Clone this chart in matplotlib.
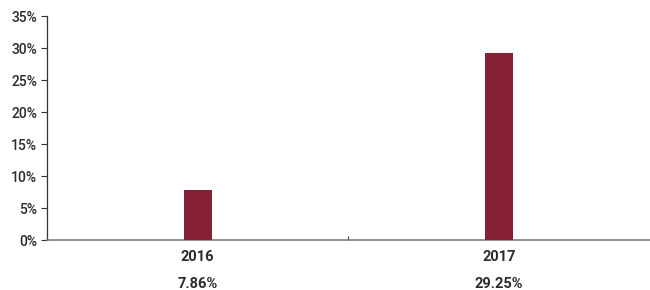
import matplotlib
matplotlib.use("Agg")
import matplotlib.pyplot as plt
from matplotlib.ticker import FuncFormatter

# 数据
years = ["2016", "2017"]
values = [7.86, 29.25]
value_labels = ["7.86%", "29.25%"]
y_ticks = [0, 5, 10, 15, 20, 25, 30, 35]

bar_color = "#862036"
plt.rcParams["font.family"] = ["Roboto", "DejaVu Sans"]

fig = plt.figure(figsize=(6.5, 2.9), dpi=100)
ax = fig.add_axes([0.0723, 0.1724, 0.927, 0.7724])

x = list(range(len(years)))
ax.bar(x, values, width=0.093, color=bar_color, zorder=3)

ax.set_xlim(-0.5, len(years) - 0.5)
ax.set_ylim(0, 35)
ax.set_yticks(y_ticks)
ax.yaxis.set_major_formatter(FuncFormatter(lambda v, _: f"{v:.0f}%"))
ax.tick_params(axis="y", length=4, width=0.8, color="#333333",
               labelsize=10, labelcolor="#2b2b2b", pad=3)
for t in ax.get_yticklabels():
    t.set_fontweight("medium")

# 类别之间的分隔刻度
ax.set_xticks([i + 0.5 for i in x[:-1]])
ax.set_xticklabels([])
ax.tick_params(axis="x", direction="in", length=3, width=0.8, color="#333333")

for s in ["top", "right"]:
    ax.spines[s].set_visible(False)
ax.spines["left"].set_color("#333333")
ax.spines["left"].set_linewidth(0.9)
ax.spines["bottom"].set_color("#7f7f7f")
ax.spines["bottom"].set_linewidth(1.2)

for i, (yr, lab) in enumerate(zip(years, value_labels)):
    ax.annotate(yr, xy=(i, 0), xycoords=("data", "axes fraction"),
                xytext=(0, -12.5), textcoords="offset points",
                ha="center", va="center", fontsize=10.5, fontweight="bold",
                color="#2b2b2b")
    ax.annotate(lab, xy=(i, 0), xycoords=("data", "axes fraction"),
                xytext=(0, -32), textcoords="offset points",
                ha="center", va="center", fontsize=10.5, fontweight="bold",
                color="#2b2b2b")

fig.savefig("out.png", dpi=100)
